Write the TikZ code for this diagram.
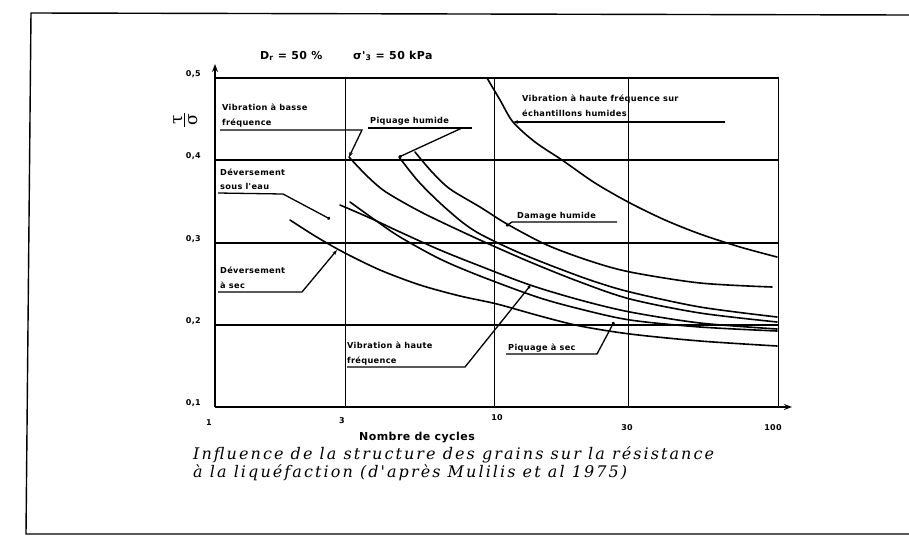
\documentclass[tikz,border=0pt]{standalone}
\usepackage{fontspec}
\setmainfont{DejaVu Sans}
\newfontfamily\labfont[LetterSpace=4]{DejaVu Sans Bold}
\newfontfamily\capfont[LetterSpace=13]{DejaVu Serif Italic}
\newfontfamily\symfont{DejaVu Serif}
\usetikzlibrary{arrows.meta}
\tikzset{
  gridh/.style={line width=1.8pt},
  gridv/.style={line width=1pt},
  crv/.style={line width=1.6pt, line cap=round},
  lab/.style={font=\labfont\fontsize{8.2}{9}\selectfont, inner sep=0pt, anchor=base west},
  tick/.style={font=\labfont\fontsize{8}{9}\selectfont, inner sep=0pt},
  big/.style={font=\labfont\fontsize{11}{12}\selectfont, inner sep=0pt},
  lead/.style={line width=1.3pt},
  ltip/.style={lead, -{Stealth[length=5pt,width=3.5pt]}},
  ldot/.style={lead, -{Circle[length=3pt]}}
}
\begin{document}
\begin{tikzpicture}[x=1pt,y=-1pt]
\useasboundingbox (0,0) rectangle (909,536);
% outer frame
\draw[line width=1.4pt] (909,15) -- (31,13) -- (26,534) -- (909,534);

% grid
\foreach \yy in {160,243,325}{\draw[gridh] (215,\yy) -- (779,\yy);}
\draw[gridh] (215,78) -- (779,78);
\foreach \xx in {345,494,628,778}{\draw[gridv] (\xx,78) -- (\xx,407);}
% axes
\draw[line width=1.8pt,-{Stealth[length=8pt,width=6pt]}] (215,407) -- (792,407);
\draw[line width=1.8pt,-{Stealth[length=8pt,width=6pt]}] (215,407) -- (215,64);

% y tick labels
\node[tick,anchor=east] (y5) at (201,74) {0,5};
\node[tick,anchor=east] (y4) at (201,156) {0,4};
\node[tick,anchor=east] (y3) at (201,239) {0,3};
\node[tick,anchor=east] (y2) at (201,321) {0,2};
\node[tick,anchor=east] (y1) at (201,403) {0,1};
% x tick labels
\node[tick] (x1) at (209,423) {1};
\node[tick] (x3) at (342,421) {3};
\node[tick] (x10) at (497,418) {10};
\node[tick] (x30) at (627,428) {30};
\node[tick] (x100) at (773,428) {100};
\node[big] (xl) at (417,437) {Nombre de cycles};

% y axis label
\node[rotate=90, inner sep=0pt, font=\symfont\fontsize{17}{17}\selectfont, align=center] (yl) at (186,120)
  {$\vcenter{\hbox{\shortstack{τ\\[-3pt]\rule{14pt}{1.3pt}\\[1pt]σ}}}$};

% header
\node[big, anchor=base west] (hd) at (260,59) {D\textsubscript{r} = 50 \%};
\node[big, anchor=base west] (hs) at (353,59) {σ'\textsubscript{3} = 50 kPa};

% curves
\draw[crv] plot[smooth] coordinates {(487,78) (500,100) (513,122) (535,142) (562,160) (595,183) (630,203) (665,220) (700,234) (740,247) (777,257)};
\draw[crv] plot[smooth] coordinates {(415,152) (432,172) (450,189) (480,207) (507,224) (547,245) (590,261) (630,272) (700,283) (772,287)};
\draw[crv] plot[smooth] coordinates {(399,157) (418,181) (440,203) (462,222) (480,234) (513,250) (547,264) (590,280) (630,292) (700,307) (777,317)};
\draw[crv] plot[smooth] coordinates {(349,157) (365,174) (383,190) (408,205) (433,218) (480,240) (530,262) (580,282) (630,299) (700,313) (777,322)};
\draw[crv] plot[smooth] coordinates {(340,205) (370,218) (400,232) (440,250) (480,266) (530,285) (580,300) (630,312) (700,323) (777,329)};
\draw[crv] plot[smooth] coordinates {(350,202) (375,220) (400,237) (440,259) (480,276) (537,297) (580,309) (630,320) (700,327) (777,331)};
\draw[crv] plot[smooth] coordinates {(290,220) (315,236) (343,252) (380,270) (420,285) (460,296) (497,304) (540,316) (580,326) (630,334) (700,341) (777,346)};

% target points on curves
\coordinate (pVB) at (349,157);
\coordinate (pPH) at (399,157);
\coordinate (pVH) at (513,122);
\coordinate (pSE) at (330,219);
\coordinate (pDH) at (506,226);
\coordinate (pAS) at (337,250);
\coordinate (pHF) at (530,286);
\coordinate (pPS) at (614,322);

% labels
\node[lab] (tVB1) at (222,110) {Vibration à basse};
\node[lab] (tVB2) at (222,125) {fréquence};
\draw[ltip] (220,130) -- (362,130) -- (pVB);

\node[lab] (tPH) at (370,123) {Piquage humide};
\draw[lead] (368,128) -- (472,128);
\draw[ldot] (462,128) -- (pPH);

\node[lab] (tVH1) at (522,101) {Vibration à haute fréquence sur};
\node[lab] (tVH2) at (522,116) {échantillons humides};
\draw[ltip] (725,122) -- (pVH);

\node[lab] (tSE1) at (220,175) {Déversement};
\node[lab] (tSE2) at (220,189) {sous l'eau};
\draw[ldot] (218,193) -- (283,194) -- (pSE);

\node[lab] (tDH) at (517,218) {Damage humide};
\draw[ldot] (617,222) -- (512,222) -- (pDH);

\node[lab] (tAS1) at (220,273) {Déversement};
\node[lab] (tAS2) at (220,288) {à sec};
\draw[ltip] (218,292) -- (302,292) -- (pAS);

\node[lab] (tHF1) at (347,348) {Vibration à haute};
\node[lab] (tHF2) at (347,363) {fréquence};
\draw[ldot] (347,367) -- (465,367) -- (pHF);

\node[lab] (tPS) at (508,350) {Piquage à sec};
\draw[ldot] (506,354) -- (597,354) -- (pPS);

% caption
\node[font=\capfont\fontsize{16}{17.5}\selectfont, inner sep=0pt, anchor=base west, align=left] (cap) at (193,477) {Influence de la structure des grains sur la résistance\\à la liquéfaction (d'après Mulilis et al 1975)};
\end{tikzpicture}
\end{document}
